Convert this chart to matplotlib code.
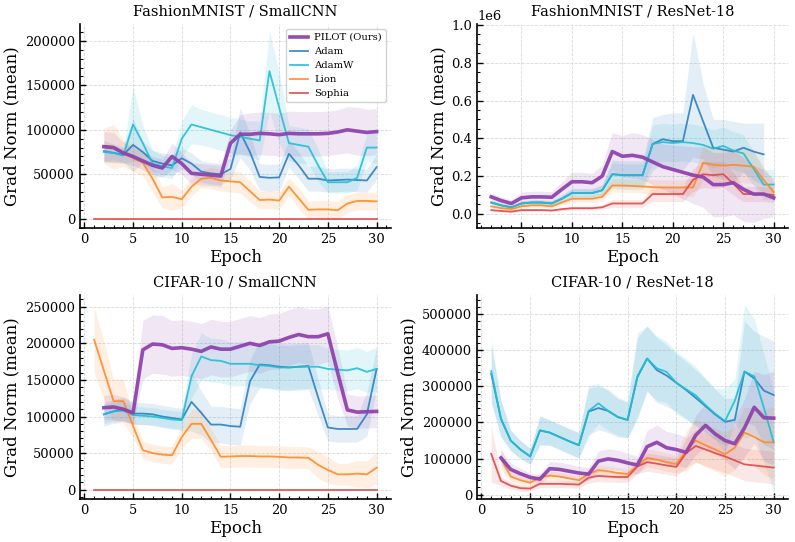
import numpy as np
import matplotlib
matplotlib.use("Agg")
import matplotlib.pyplot as plt
from matplotlib.ticker import AutoMinorLocator

# ---------------- data ----------------
optimizers = ["PILOT (Ours)", "Adam", "AdamW", "Lion", "Sophia"]
colors = {"PILOT (Ours)": "#8e44ad", "Adam": "#2f7fc1", "AdamW": "#1fbfd4",
          "Lion": "#ff8a24", "Sophia": "#e04848"}

titles = ["FashionMNIST / SmallCNN", "FashionMNIST / ResNet-18",
          "CIFAR-10 / SmallCNN", "CIFAR-10 / ResNet-18"]

ep1 = list(range(1, 31))
ep2 = list(range(2, 31))
ep2_29 = list(range(2, 30))

# Panel 1: FashionMNIST / SmallCNN
p1_pilot = [81000, 80000, 74000, 70000, 65000, 60000, 57000, 70000, 62000, 51000, 50000, 49000, 48000,
            85000, 95000, 95000, 96000, 95500, 94500, 96000, 95500, 95500, 95500, 96000, 97500,
            100000, 98500, 97000, 98000]
p1_pilot_sd = [17000, 17000, 12000, 10000, 10000, 10000, 10000, 15000, 12000, 12000, 12000, 12000, 12000,
               15000, 22000, 24000, 24000, 24000, 24000, 25000, 25000, 25000, 25000, 25000, 25000,
               26000, 27000, 26000, 26000]
p1_adam = [76000, 74000, 72000, 83000, 75000, 65000, 62000, 60000, 68000, 62000, 53000, 51000, 50000,
           56000, 97000, 75000, 47000, 46000, 46500, 73000, 60000, 45000, 45000, 43000, 43500, 44000,
           43500, 43000, 58000]
p1_adam_sd = [12000, 10000, 8000, 30000, 12000, 12000, 12000, 12000, 12000, 12000, 12000, 12000, 12000,
              12000, 28000, 20000, 15000, 15000, 15000, 15000, 15000, 14000, 14000, 13000, 13000, 13000,
              13000, 13000, 14000]
p1_adamw = [75000, 74000, 71000, 106000, 85000, 62000, 59000, 57000, 90000, 106000, 103000, 100000,
            97000, 94000, 92000, 90000, 88000, 166000, 125000, 85000, 83000, 81000, 60000, 41000, 41000,
            41000, 46000, 80000, 80000]
p1_adamw_sd = [10000, 8000, 8000, 42000, 20000, 15000, 12000, 12000, 20000, 22000, 20000, 20000, 20000,
               20000, 20000, 20000, 22000, 45000, 40000, 20000, 20000, 20000, 18000, 12000, 12000, 12000,
               14000, 15000, 18000]
p1_lion = [82000, 81000, 74000, 68000, 63000, 45000, 24000, 24500, 22000, 36000, 45000, 46000, 43000,
           42000, 41000, 31000, 21000, 21500, 20500, 36000, 23000, 10000, 10500, 10500, 9500, 17000,
           20000, 20000, 19500]
p1_lion_sd = [20000, 25000, 15000, 15000, 15000, 15000, 12000, 15000, 10000, 10000, 10000, 12000, 12000,
              12000, 12000, 12000, 10000, 10000, 10000, 10000, 12000, 10000, 10000, 10000, 10000, 10000,
              10000, 10000, 10000]
p1_sophia = [0] * 30

# Panel 2: FashionMNIST / ResNet-18
p2_pilot = [90000, 70000, 55000, 85000, 90000, 90000, 88000, 130000, 170000, 170000, 165000, 200000,
            330000, 305000, 310000, 300000, 275000, 250000, 235000, 220000, 205000, 195000, 155000,
            155000, 165000, 130000, 105000, 105000, 85000]
p2_pilot_sd = [20000, 20000, 20000, 30000, 30000, 30000, 30000, 40000, 50000, 50000, 50000, 60000,
               100000, 110000, 120000, 120000, 120000, 120000, 130000, 140000, 150000, 160000, 170000,
               170000, 170000, 170000, 150000, 130000, 100000]
p2_adam = [60000, 45000, 35000, 55000, 60000, 60000, 55000, 80000, 110000, 110000, 110000, 125000,
           210000, 205000, 205000, 205000, 370000, 395000, 385000, 385000, 630000, 490000, 350000,
           340000, 330000, 350000, 330000, 315000]
p2_adam_sd = [12000, 10000, 10000, 15000, 15000, 15000, 15000, 20000, 25000, 25000, 25000, 30000,
              75000, 75000, 75000, 75000, 140000, 130000, 150000, 150000, 330000, 200000, 150000,
              160000, 160000, 130000, 150000, 165000]
p2_adamw = [60000, 45000, 35000, 55000, 60000, 60000, 55000, 80000, 110000, 110000, 110000, 125000,
            210000, 205000, 205000, 205000, 370000, 380000, 375000, 380000, 375000, 365000, 345000,
            360000, 335000, 320000, 240000, 155000, 155000]
p2_adamw_sd = [10000, 10000, 10000, 12000, 12000, 12000, 12000, 15000, 20000, 20000, 20000, 25000,
               60000, 60000, 60000, 60000, 100000, 100000, 100000, 100000, 100000, 100000, 100000,
               100000, 100000, 100000, 90000, 80000, 80000]
p2_lion = [40000, 30000, 25000, 40000, 45000, 45000, 40000, 60000, 80000, 80000, 80000, 90000, 150000,
           150000, 148000, 145000, 142000, 140000, 140000, 140000, 140000, 270000, 260000, 255000,
           260000, 255000, 250000, 180000, 115000]
p2_lion_sd = [8000, 8000, 8000, 10000, 10000, 10000, 10000, 15000, 20000, 20000, 20000, 22000, 35000,
              35000, 35000, 35000, 40000, 40000, 40000, 40000, 50000, 90000, 90000, 90000, 90000, 90000,
              90000, 70000, 50000]
p2_sophia = [20000, 15000, 12000, 20000, 20000, 20000, 18000, 25000, 30000, 30000, 30000, 35000, 55000,
             55000, 55000, 55000, 105000, 105000, 105000, 105000, 180000, 210000, 205000, 210000,
             160000, 105000, 105000, 105000, 100000]
p2_sophia_sd = [5000, 5000, 5000, 6000, 6000, 6000, 6000, 8000, 10000, 10000, 10000, 12000, 20000,
                20000, 20000, 20000, 40000, 40000, 40000, 40000, 60000, 70000, 70000, 70000, 60000,
                40000, 40000, 40000, 40000]

# Panel 3: CIFAR-10 / SmallCNN
p3_pilot = [112000, 113000, 110000, 105000, 191000, 199000, 198000, 193000, 194000, 192000, 189000,
            195000, 192000, 192000, 196000, 200000, 197000, 202000, 203000, 208000, 212000, 209000,
            209000, 213000, 160000, 109000, 106000, 106500, 107000]
p3_pilot_sd = [17000, 17000, 17000, 15000, 40000, 40000, 40000, 38000, 38000, 38000, 38000, 38000,
               38000, 38000, 38000, 38000, 38000, 38000, 38000, 38000, 38000, 38000, 38000, 38000,
               35000, 22000, 22000, 22000, 22000]
p3_adam = [103000, 107000, 110000, 104000, 104000, 103000, 100000, 98000, 96000, 120000, 105000, 89000,
           89000, 87000, 86000, 148000, 171000, 170000, 168000, 167000, 168000, 169000, 126000, 85000,
           83000, 83000, 83000, 103000, 165000]
p3_adam_sd = [16000, 16000, 16000, 15000, 15000, 15000, 15000, 15000, 15000, 40000, 30000, 25000,
              25000, 25000, 25000, 30000, 32000, 32000, 32000, 32000, 32000, 32000, 25000, 18000,
              18000, 18000, 18000, 30000, 30000]
p3_adamw = [103000, 107000, 108000, 102000, 101000, 100000, 98000, 96000, 95000, 155000, 182000, 177000,
            176000, 172000, 172000, 172000, 170000, 169000, 167000, 167000, 168000, 168000, 168000,
            165000, 164000, 163000, 166000, 161000, 165000]
p3_adamw_sd = [13000, 13000, 13000, 12000, 12000, 12000, 12000, 12000, 12000, 30000, 32000, 30000,
               30000, 30000, 30000, 30000, 30000, 30000, 30000, 30000, 30000, 30000, 30000, 28000,
               28000, 28000, 28000, 28000, 30000]
p3_lion = [205000, 163000, 121000, 121000, 87000, 54000, 50000, 48000, 47000, 72000, 90000, 90000,
           68000, 45000, 45500, 46000, 46000, 45500, 45500, 45000, 44000, 44000, 43500, 34000, 27000,
           21000, 21000, 22000, 21000, 30000]
p3_lion_sd = [45000, 40000, 30000, 30000, 15000, 12000, 12000, 12000, 12000, 15000, 20000, 20000,
              15000, 15000, 15000, 15000, 15000, 15000, 15000, 15000, 15000, 15000, 15000, 18000,
              18000, 15000, 15000, 18000, 18000, 22000]
p3_sophia = [0] * 30

# Panel 4: CIFAR-10 / ResNet-18
p4_adam = [335000, 210000, 150000, 125000, 106000, 178000, 172000, 160000, 148000, 137000, 230000,
           240000, 232000, 215000, 207000, 325000, 377000, 345000, 330000, 310000, 290000, 268000,
           245000, 222000, 202000, 207000, 341000, 322000, 288000, 276000]
p4_adam_sd = [80000, 50000, 28000, 25000, 22000, 40000, 35000, 35000, 35000, 35000, 65000, 60000, 60000,
              55000, 50000, 110000, 90000, 90000, 85000, 80000, 80000, 78000, 75000, 70000, 65000,
              60000, 140000, 130000, 150000, 150000]
p4_adamw = [342000, 210000, 150000, 125000, 106000, 178000, 172000, 160000, 148000, 137000, 232000,
            253000, 232000, 215000, 207000, 328000, 377000, 350000, 340000, 310000, 292000, 275000,
            248000, 224000, 204000, 260000, 341000, 328000, 240000, 145000]
p4_adamw_sd = [85000, 50000, 28000, 25000, 22000, 40000, 35000, 35000, 35000, 35000, 70000, 55000,
               55000, 50000, 50000, 120000, 90000, 90000, 85000, 85000, 85000, 80000, 75000, 70000,
               90000, 60000, 185000, 160000, 150000, 140000]
p4_pilot = [102000, 70000, 58000, 48000, 43000, 72000, 70000, 65000, 60000, 57000, 93000, 99000,
            95000, 88000, 82000, 133000, 145000, 130000, 125000, 117000, 165000, 192000, 168000, 150000,
            141000, 185000, 242000, 213000, 212000]
p4_pilot_sd = [20000, 18000, 15000, 12000, 12000, 20000, 20000, 20000, 18000, 18000, 28000, 28000,
               28000, 26000, 25000, 45000, 48000, 45000, 45000, 42000, 55000, 60000, 55000, 55000,
               70000, 80000, 100000, 120000, 130000]
p4_lion = [100000, 50000, 40000, 33000, 48000, 53000, 50000, 45000, 40000, 58000, 68000, 65000, 60000,
           57000, 80000, 102000, 97000, 90000, 85000, 120000, 150000, 137000, 125000, 112000, 130000,
           172000, 160000, 145000, 145000]
p4_lion_sd = [30000, 15000, 12000, 12000, 12000, 12000, 12000, 12000, 12000, 15000, 15000, 15000,
              15000, 15000, 20000, 25000, 25000, 25000, 25000, 55000, 60000, 60000, 60000, 60000,
              60000, 70000, 80000, 90000, 100000]
p4_sophia = [113000, 38000, 25000, 18000, 17000, 30000, 30000, 30000, 29000, 28000, 47000, 52000, 50000,
             49000, 49000, 78000, 90000, 86000, 81000, 77000, 115000, 135000, 125000, 115000, 106000,
             95000, 84000, 81000, 78000, 75000]
p4_sophia_sd = [78000, 12000, 10000, 8000, 8000, 10000, 10000, 10000, 10000, 10000, 15000, 15000,
                15000, 15000, 15000, 20000, 25000, 25000, 25000, 25000, 40000, 45000, 45000, 45000,
                45000, 45000, 45000, 45000, 45000, 45000]

panels = [
    {"PILOT (Ours)": (ep2, p1_pilot, p1_pilot_sd), "Adam": (ep2, p1_adam, p1_adam_sd),
     "AdamW": (ep2, p1_adamw, p1_adamw_sd), "Lion": (ep2, p1_lion, p1_lion_sd),
     "Sophia": (ep1, p1_sophia, [0] * 30)},
    {"PILOT (Ours)": (ep2, p2_pilot, p2_pilot_sd), "Adam": (ep2_29, p2_adam, p2_adam_sd),
     "AdamW": (ep2, p2_adamw, p2_adamw_sd), "Lion": (ep2, p2_lion, p2_lion_sd),
     "Sophia": (ep2, p2_sophia, p2_sophia_sd)},
    {"PILOT (Ours)": (ep2, p3_pilot, p3_pilot_sd), "Adam": (ep2, p3_adam, p3_adam_sd),
     "AdamW": (ep2, p3_adamw, p3_adamw_sd), "Lion": (ep1, p3_lion, p3_lion_sd),
     "Sophia": (ep1, p3_sophia, [0] * 30)},
    {"PILOT (Ours)": (ep2, p4_pilot, p4_pilot_sd), "Adam": (ep1, p4_adam, p4_adam_sd),
     "AdamW": (ep1, p4_adamw, p4_adamw_sd), "Lion": (ep2, p4_lion, p4_lion_sd),
     "Sophia": (ep1, p4_sophia, p4_sophia_sd)},
]

xlims = [(-0.45, 31.45), (0.6, 31.4), (-0.45, 31.45), (-0.45, 31.45)]
ylims = [(-10500, 219000), (-75000, 1005000), (-12700, 266000), (-12000, 553000)]
xticks = [[0, 5, 10, 15, 20, 25, 30], [5, 10, 15, 20, 25, 30],
          [0, 5, 10, 15, 20, 25, 30], [0, 5, 10, 15, 20, 25, 30]]

# ---------------- style ----------------
plt.rcParams.update({
    "font.family": ["DejaVu Serif"],
    "xtick.direction": "in", "ytick.direction": "in",
    "xtick.major.size": 4, "ytick.major.size": 4,
    "xtick.minor.size": 2, "ytick.minor.size": 2,
    "xtick.major.width": 1.0, "ytick.major.width": 1.0,
    "xtick.minor.width": 0.8, "ytick.minor.width": 0.8,
    "axes.linewidth": 1.2,
})

fig, axes = plt.subplots(2, 2, figsize=(7.95, 5.42), dpi=100)
fig.subplots_adjust(left=0.1006, right=0.991, top=0.9557, bottom=0.0793,
                    wspace=0.278, hspace=0.328)

order_draw = ["Adam", "AdamW", "Lion", "Sophia", "PILOT (Ours)"]
for i, ax in enumerate(axes.flat):
    data = panels[i]
    handles = {}
    for name in order_draw:
        x, m, s = data[name]
        x = np.asarray(x)
        m = np.asarray(m, dtype=float)
        s = np.asarray(s, dtype=float)
        is_pilot = name == "PILOT (Ours)"
        c = colors[name]
        ax.fill_between(x, m - s, m + s, color=c, alpha=0.13, lw=0,
                        zorder=1)
        (ln,) = ax.plot(x, m, color=c, lw=2.6 if is_pilot else 1.3,
                        alpha=0.95 if is_pilot else 0.9, zorder=4 if is_pilot else 3,
                        label=name)
        handles[name] = ln
    ax.set_title(titles[i], fontsize=10.5)
    ax.set_xlabel("Epoch", fontsize=12, labelpad=2)
    ax.set_ylabel("Grad Norm (mean)", fontsize=12, labelpad=3)
    ax.set_xlim(*xlims[i])
    ax.set_ylim(*ylims[i])
    ax.set_xticks(xticks[i])
    ax.xaxis.set_minor_locator(AutoMinorLocator())
    ax.yaxis.set_minor_locator(AutoMinorLocator())
    ax.tick_params(labelsize=9.4)
    ax.yaxis.get_offset_text().set_fontsize(9.4)
    ax.spines["top"].set_visible(False)
    ax.spines["right"].set_visible(False)
    ax.grid(True, which="major", linestyle="--", linewidth=0.6, color="#d0d0d0", alpha=0.8)
    ax.set_axisbelow(True)
    if i == 0:
        ax.legend([handles[n] for n in optimizers], optimizers, loc="upper right",
                  fontsize=7.2, frameon=True, framealpha=0.9, edgecolor="#cccccc",
                  borderpad=0.4, labelspacing=0.5, handlelength=1.8, handletextpad=0.6)

fig.savefig("out.png", dpi=100)
